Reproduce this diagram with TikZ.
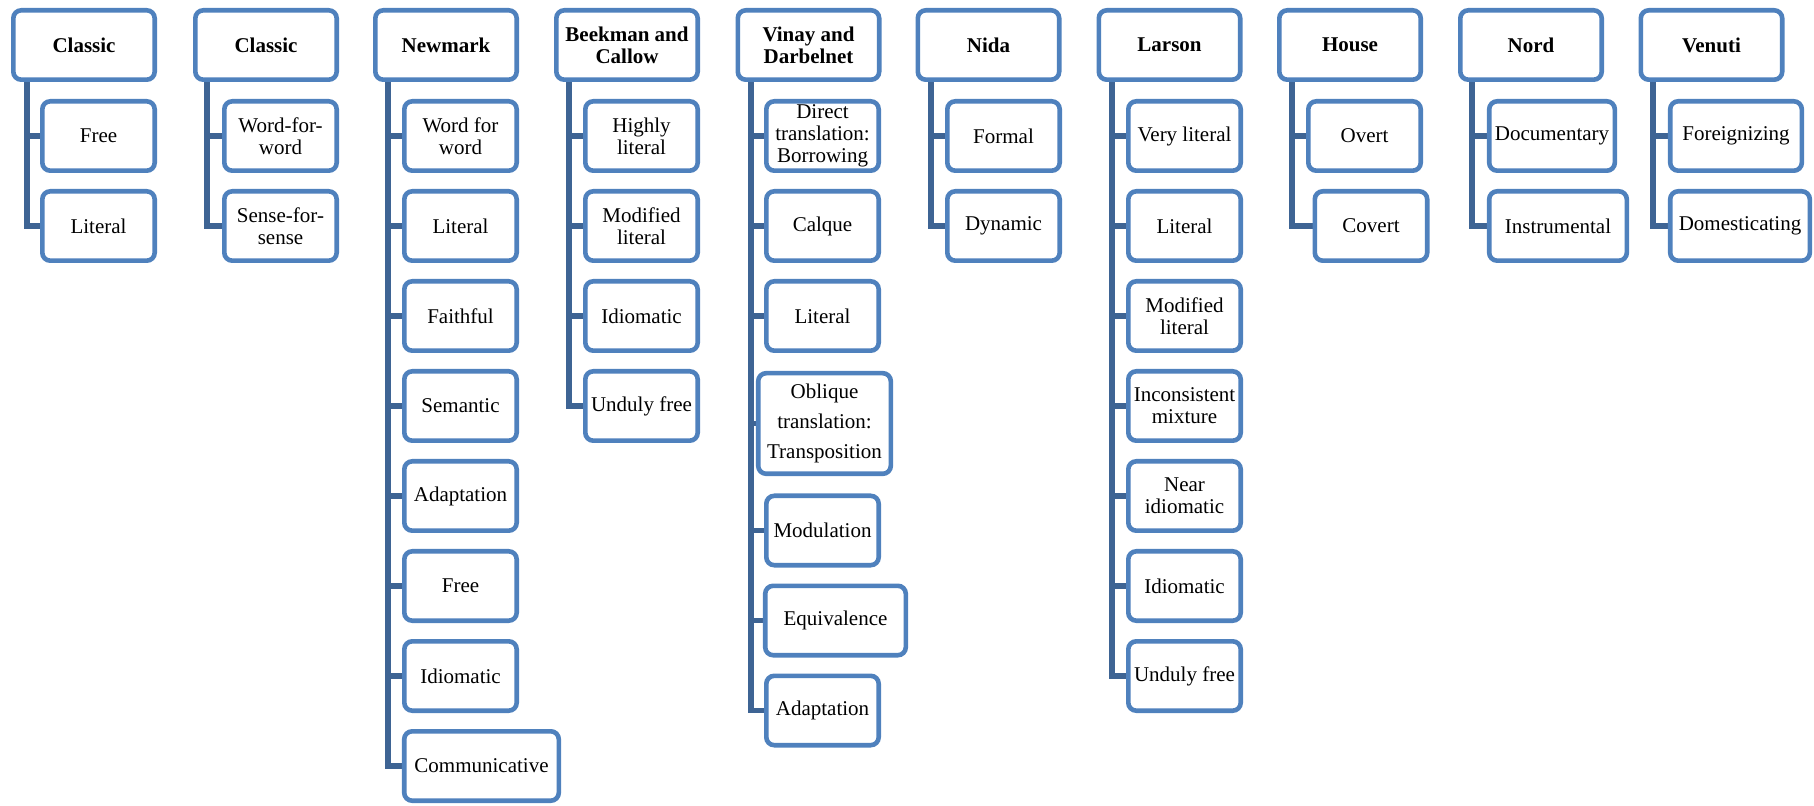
\documentclass[tikz,border=0pt]{standalone}
\usepackage{fontspec}
\setmainfont{Liberation Serif}
\usetikzlibrary{calc,backgrounds}

\definecolor{boxblue}{RGB}{79,129,189}
\definecolor{busblue}{RGB}{62,100,148}

\tikzset{
  head/.style={draw=boxblue, line width=2.3pt, rounded corners=4pt, fill=white,
    minimum width=70.7pt, minimum height=34.7pt, align=center, inner sep=1pt,
    font=\fontsize{10.5}{11}\selectfont\bfseries},
  leaf/.style={draw=boxblue, line width=2.3pt, rounded corners=4pt, fill=white,
    minimum width=56.2pt, minimum height=34.7pt, align=center, inner sep=1pt,
    font=\fontsize{10.5}{11}\selectfont},
  bus/.style={draw=busblue, line width=2.6pt}
}

\begin{document}
\begin{tikzpicture}[x=0.5pt,y=-0.5pt]
\useasboundingbox (0,0) rectangle (1814,806);

% top row
\node[head] (classicA) at (84,45) {Classic};
\node[head] (classicB) at (266,45) {Classic};
\node[head] (newmark) at (446,45) {Newmark};
\node[head] (beekman) at (627,45) {Beekman and\\Callow};
\node[head] (vinay) at (808.5,45) {Vinay and\\Darbelnet};
\node[head] (nida) at (988.5,45) {Nida};
\node[head] (larson) at (1169.5,45) {Larson};
\node[head] (house) at (1350,45) {House};
\node[head] (nord) at (1531,45) {Nord};
\node[head] (venuti) at (1711.5,45) {Venuti};

\coordinate (busCA) at (27,80);
\coordinate (busCB) at (207,80);
\coordinate (busNM) at (388,80);
\coordinate (busBC) at (569,80);
\coordinate (busVD) at (751,80);
\coordinate (busNI) at (931,80);
\coordinate (busLA) at (1112,80);
\coordinate (busHO) at (1292,80);
\coordinate (busNO) at (1472,80);
\coordinate (busVE) at (1653,80);

% Classic
\foreach \t [count=\i] in {Free,Literal}
  \node[leaf] (ca\i) at (98.5,46+90*\i) {\t};
\foreach \t [count=\i] in {{Word-for-\\word},{Sense-for-\\sense}}
  \node[leaf] (cb\i) at (280.5,46+90*\i) {\t};

% Newmark
\foreach \t [count=\i] in {{Word for\\word},Literal,Faithful,Semantic,Adaptation,Free,Idiomatic}
  \node[leaf] (nm\i) at (460.5,46+90*\i) {\t};
\node[leaf, minimum width=77.3pt] (nm8) at (481.5,766) {Communicative};

% Beekman and Callow
\foreach \t [count=\i] in {{Highly\\literal},{Modified\\literal},Idiomatic,Unduly free}
  \node[leaf] (bc\i) at (641.5,46+90*\i) {\t};

% Vinay and Darbelnet
\node[leaf] (vd1) at (822.5,136) {Direct\\translation:\\Borrowing};
\node[leaf] (vd2) at (822.5,226) {Calque};
\node[leaf] (vd3) at (822.5,316) {Literal};
\node[leaf, minimum width=66.3pt, minimum height=50.3pt,
  font=\fontsize{10.5}{15}\selectfont] (vd4) at (824.5,423.5) {Oblique\\translation:\\Transposition};
\node[leaf] (vd5) at (822.5,530.5) {Modulation};
\node[leaf, minimum width=70.3pt] (vd6) at (835.5,620.5) {Equivalence};
\node[leaf] (vd7) at (822.5,710.5) {Adaptation};

% Nida
\foreach \t [count=\i] in {Formal,Dynamic}
  \node[leaf] (ni\i) at (1003.5,46+90*\i) {\t};

% Larson
\foreach \t [count=\i] in {Very literal,Literal,{Modified\\literal},{Inconsistent\\mixture},{Near\\idiomatic},Idiomatic,Unduly free}
  \node[leaf] (la\i) at (1184.5,46+90*\i) {\t};

% House, Nord, Venuti
\node[leaf] (ho1) at (1364.5,136) {Overt};
\node[leaf] (ho2) at (1371,226) {Covert};
\node[leaf, minimum width=62.8pt] (no1) at (1552,136) {Documentary};
\node[leaf, minimum width=68.8pt] (no2) at (1558,226) {Instrumental};
\node[leaf, minimum width=65.8pt] (ve1) at (1736,136) {Foreignizing};
\node[leaf, minimum width=69.8pt] (ve2) at (1740,226) {Domesticating};

% connectors
\begin{scope}[on background layer]
\draw[bus] (busCA) |- (ca2.west);
\draw[bus] (busCA |- ca1.west) -- (ca1.west);
\draw[bus] (busCB) |- (cb2.west);
\draw[bus] (busCB |- cb1.west) -- (cb1.west);
\draw[bus] (busNM) |- (nm8.west);
\foreach \i in {1,...,7}
  \draw[bus] (busNM |- nm\i.west) -- (nm\i.west);
\draw[bus] (busBC) |- (bc4.west);
\foreach \i in {1,...,3}
  \draw[bus] (busBC |- bc\i.west) -- (bc\i.west);
\draw[bus] (busVD) |- (vd7.west);
\foreach \i in {1,...,6}
  \draw[bus] (busVD |- vd\i.west) -- (vd\i.west);
\draw[bus] (busNI) |- (ni2.west);
\draw[bus] (busNI |- ni1.west) -- (ni1.west);
\draw[bus] (busLA) |- (la7.west);
\foreach \i in {1,...,6}
  \draw[bus] (busLA |- la\i.west) -- (la\i.west);
\draw[bus] (busHO) |- (ho2.west);
\draw[bus] (busHO |- ho1.west) -- (ho1.west);
\draw[bus] (busNO) |- (no2.west);
\draw[bus] (busNO |- no1.west) -- (no1.west);
\draw[bus] (busVE) |- (ve2.west);
\draw[bus] (busVE |- ve1.west) -- (ve1.west);
\end{scope}
\end{tikzpicture}
\end{document}
